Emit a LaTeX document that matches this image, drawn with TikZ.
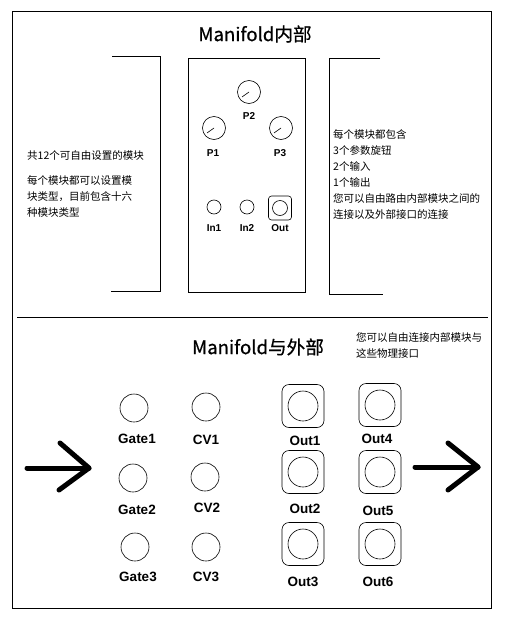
\documentclass[tikz,border=0pt]{standalone}
\usepackage{fontspec}
\setmainfont{Liberation Sans}
\newfontfamily\cjk{Noto Sans CJK SC}
\newfontfamily\cjkt[FakeBold=0.6]{Noto Sans CJK SC}
\begin{document}
\begin{tikzpicture}[x=1pt,y=-1pt,
  frame/.style={draw=black,line width=0.9pt},
  bline/.style={line width=0.9pt},
  ttl/.style={font=\cjkt\fontsize{18.6}{20}\selectfont,inner sep=0},
  body/.style={font=\cjk\fontsize{10.5}{12}\selectfont,anchor=west,inner sep=0},
  knob/.style={circle,draw,line width=0.6pt,minimum size=23pt,inner sep=0},
  jack/.style={circle,draw,line width=0.6pt,minimum size=14pt,inner sep=0},
  bigjack/.style={circle,draw,line width=0.6pt,minimum size=28pt,inner sep=0},
  outbox/.style={rectangle,draw,line width=0.6pt,rounded corners=7pt,minimum width=42pt,minimum height=43pt,inner sep=0},
  smallbox/.style={rectangle,draw,line width=0.6pt,rounded corners=3pt,minimum width=23pt,minimum height=24pt,inner sep=0},
  smlab/.style={font=\bfseries\fontsize{10}{12}\selectfont,inner sep=0},
  biglab/.style={font=\bfseries\fontsize{13.5}{15}\selectfont,inner sep=0},
  bigarrow/.style={line width=5pt,line cap=round,line join=round}]
\useasboundingbox (0,0) rectangle (511,629);
\fill[white] (0,0) rectangle (511,629);
% outer frame
\draw[frame] (12,11) rectangle (491,608);
\coordinate (s1) at (17,317);
\coordinate (s2) at (488,317);
\draw[bline] (s1) -- (s2);
% top title
\node[ttl] (t1) at (255,34) {Manifold内部};
% left bracket
\coordinate (lb1) at (112,56);
\coordinate (lb2) at (160,56);
\coordinate (lb3) at (160,291);
\coordinate (lb4) at (111,291);
\draw[bline] (lb1) -- (lb2) -- (lb3) -- (lb4);
% module box
\draw[frame] (188,58) rectangle (305,292);
% right bracket
\coordinate (rb1) at (380,58);
\coordinate (rb2) at (329,58);
\coordinate (rb3) at (329,294);
\coordinate (rb4) at (383,294);
\draw[bline] (rb1) -- (rb2) -- (rb3) -- (rb4);
% knobs
\node[knob] (p2) at (249,92) {};
\node[knob] (p1) at (214,128) {};
\node[knob] (p3) at (281,128) {};
\foreach \k in {p1,p2,p3}{
  \draw[line width=0.6pt] (\k.center) -- ++(-7,5);
}
\node[smlab] (p2l) at (249,116) {P2};
\node[smlab] (p1l) at (213,153) {P1};
\node[smlab] (p3l) at (280,153) {P3};
% in/out jacks
\node[jack] (in1) at (214,207) {};
\node[jack] (in2) at (247,207) {};
\node[smallbox] (outb) at (280,208) {};
\node[circle,draw,line width=0.6pt,minimum size=15pt,inner sep=0] (outc) at (outb.center) {};
\node[smlab] (in1l) at (214,228) {In1};
\node[smlab] (in2l) at (247,228) {In2};
\node[smlab] (outl) at (280,228) {Out};
% left text
\node[body] (lt0) at (27,156) {共12个可自由设置的模块};
\node[body] (lt1) at (27,181) {每个模块都可以设置模};
\node[body] (lt2) at (27,197) {块类型，目前包含十六};
\node[body] (lt3) at (27,213) {种模块类型};
% right text
\node[body] (rt1) at (333,134) {每个模块都包含};
\node[body] (rt2) at (333,150) {3个参数旋钮};
\node[body] (rt3) at (333,166) {2个输入};
\node[body] (rt4) at (333,182) {1个输出};
\node[body] (rt5) at (333,199) {您可以自由路由内部模块之间的};
\node[body] (rt6) at (333,215) {连接以及外部接口的连接};
% bottom title
\node[ttl] (t2) at (258,347) {Manifold与外部};
\node[body] (nt1) at (356,338) {您可以自由连接内部模块与};
\node[body] (nt2) at (356,353) {这些物理接口};
% gate / cv jacks
\node[bigjack] (g1) at (134,408) {};
\node[bigjack] (g2) at (133,478) {};
\node[bigjack] (g3) at (135,547) {};
\node[bigjack] (c1) at (206,407) {};
\node[bigjack] (c2) at (205,477) {};
\node[bigjack] (c3) at (206,547) {};
\node[biglab] (g1l) at (137,439) {Gate1};
\node[biglab] (g2l) at (137,510) {Gate2};
\node[biglab] (g3l) at (138,577) {Gate3};
\node[biglab] (c1l) at (206,440) {CV1};
\node[biglab] (c2l) at (207,508) {CV2};
\node[biglab] (c3l) at (206,577) {CV3};
% outputs
\foreach \n/\x/\y/\lx/\ly/\t in {o1/303/406/305/441/Out1,o2/303/472/305/509/Out2,o3/303/544/303/582/Out3,o4/380/405/377/439/Out4,o5/380/472/378/511/Out5,o6/380/544/378/582/Out6}{
  \node[outbox] (\n) at (\x,\y) {};
  \node[circle,draw,line width=0.6pt,minimum width=30pt,minimum height=29pt,inner sep=0] (\n c) at (\n.center) {};
  \node[biglab] (\n l) at (\lx,\ly) {\t};
}
% arrows
\coordinate (la0) at (27,468);
\coordinate (la1) at (89,468);
\coordinate (la2) at (60,443);
\coordinate (la3) at (59,490);
\draw[bigarrow] (la0) -- (la1);
\draw[bigarrow] (la2) -- (la1) -- (la3);
\coordinate (ra0) at (415,467);
\coordinate (ra1) at (478,467);
\coordinate (ra2) at (448,443);
\coordinate (ra3) at (448,490);
\draw[bigarrow] (ra0) -- (ra1);
\draw[bigarrow] (ra2) -- (ra1) -- (ra3);
\end{tikzpicture}
\end{document}
